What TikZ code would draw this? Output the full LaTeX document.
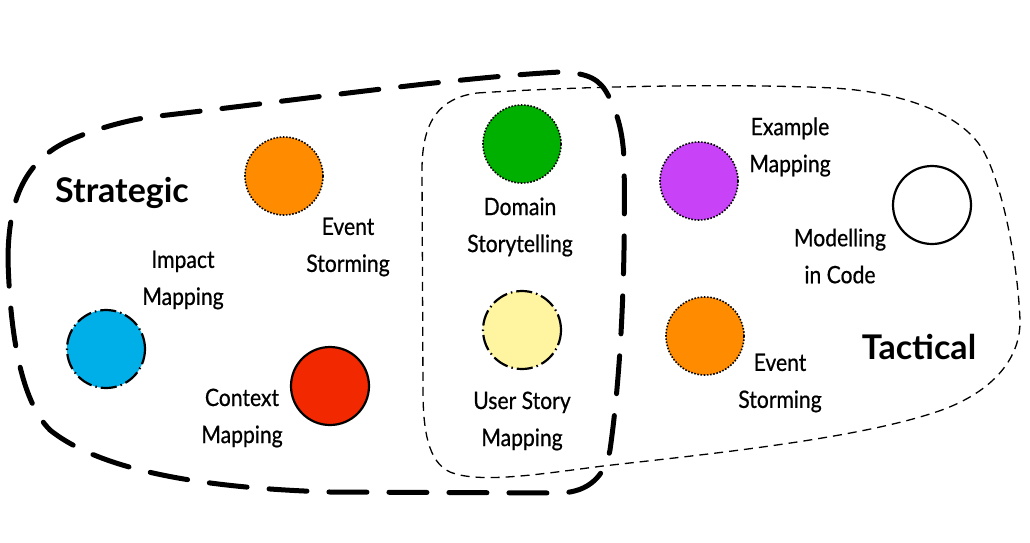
\documentclass[tikz,border=0pt]{standalone}
\usepackage{fontspec}
\setmainfont{Lato}
\newfontfamily\handfont[FakeStretch=0.88,FakeBold=0.6]{Lato}
\definecolor{corange}{RGB}{255,140,0}
\definecolor{cblue}{RGB}{0,174,232}
\definecolor{cred}{RGB}{242,40,0}
\definecolor{cgreen}{RGB}{0,176,0}
\definecolor{cyellow}{RGB}{255,245,160}
\definecolor{cpurple}{RGB}{200,67,248}
\begin{document}
\begin{tikzpicture}[x=1pt,y=-1pt,
  circ/.style={circle, minimum size=78pt, inner sep=0pt},
  dotborder/.style={draw=black, line width=1.6pt, dash pattern=on 1.6pt off 1.6pt},
  dashdotborder/.style={draw=black, line width=2.2pt, dash pattern=on 16pt off 4pt on 1.5pt off 4pt},
  solidborder/.style={draw=black, line width=2.2pt},
  lbl/.style={font=\handfont\fontsize{24}{37}\selectfont, align=center, inner sep=0pt},
  title/.style={font=\bfseries\fontsize{34}{40}\selectfont, inner sep=0pt},
  strategicline/.style={line width=5pt, line cap=round, dash pattern=on 38pt off 22pt},
  tacticalline/.style={line width=1.3pt, dash pattern=on 9pt off 6pt}
]
\useasboundingbox (0,0) rectangle (1030,542);
\fill[white] (0,0) rectangle (1030,542);

% Tactical area (thin dashed)
\draw[tacticalline] (477,93) .. controls (600,85) and (750,84) .. (833,88)
  .. controls (900,92) and (960,112) .. (983,150)
  .. controls (1005,190) and (1018,270) .. (1020,320)
  .. controls (1021,360) and (990,395) .. (933,413)
  .. controls (850,440) and (700,455) .. (603,466)
  .. controls (540,474) and (480,484) .. (450,472)
  .. controls (428,462) and (423,430) .. (423,390)
  -- (422,170)
  .. controls (422,120) and (440,98) .. (477,93) -- cycle;

% Strategic area (thick dashed)
\draw[strategicline] (8,260) .. controls (8,200) and (25,160) .. (70,140)
  .. controls (100,127) and (130,120) .. (150,117)
  .. controls (300,100) and (450,78) .. (560,72)
  .. controls (590,73) and (600,80) .. (608,95)
  .. controls (616,110) and (623,130) .. (624,160)
  .. controls (626,280) and (620,380) .. (610,450)
  .. controls (605,475) and (590,492) .. (560,493)
  -- (330,492)
  .. controls (200,488) and (100,470) .. (50,430)
  .. controls (20,400) and (10,330) .. (8,260) -- cycle;

% Circles
\node[circ, fill=corange, dotborder] (es1) at (284,176) {};
\node[circ, fill=cblue, dashdotborder] (im) at (106,349) {};
\node[circ, fill=cred, solidborder] (cm) at (330,386) {};
\node[circ, fill=cgreen, dotborder] (ds) at (522,144) {};
\node[circ, fill=cyellow, dashdotborder] (usm) at (522,330) {};
\node[circ, fill=cpurple, dotborder] (em) at (699,181) {};
\node[circ, fill=white, solidborder] (mic) at (932,205) {};
\node[circ, fill=corange, dotborder] (es2) at (705,336) {};

% Labels
\node[lbl] (es1l) at (348,247) {Event\\Storming};
\node[lbl] (iml) at (183,280) {Impact\\Mapping};
\node[lbl] (cml) at (242,418) {Context\\Mapping};
\node[lbl] (dsl) at (520,227) {Domain\\Storytelling};
\node[lbl] (usml) at (522,421) {User Story\\Mapping};
\node[lbl] (eml) at (790,147) {Example\\Mapping};
\node[lbl] (micl) at (840,256) {Modelling\\in Code};
\node[lbl] (es2l) at (780,383) {Event\\Storming};

% Titles
\node[title] (strat) at (122,193) {Strategic};
\node[title] (tact) at (919,347) {Tactical};
\end{tikzpicture}
\end{document}
